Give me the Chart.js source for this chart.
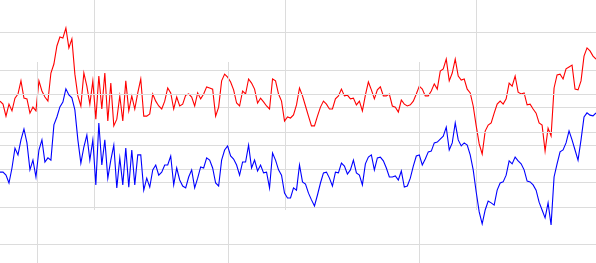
<!DOCTYPE html>
<html>
<head>
<meta charset="utf-8">
<script src="https://cdn.jsdelivr.net/npm/chart.js@4"></script>
<style>
html,body{margin:0;padding:0;background:#fff;overflow:hidden;}
#wrap{position:relative;width:596px;height:263px;overflow:hidden;background:#fff;}
canvas{position:absolute;left:0;}
#cA{top:0;}
#cB{top:62px;}
</style>
</head>
<body>
<div id="wrap">
<canvas id="cA" width="596" height="210"></canvas>
<canvas id="cB" width="596" height="210"></canvas>
</div>
<script>
// Series values (sample index 0..199)
const redValues = [
21.7,20.9,17.7,20.9,19.1,22.5,23.6,27.1,22.5,22.3,
18.5,20.1,19.1,27.1,24.4,22.8,21.7,29.2,31.6,36.4,
38.8,38.5,41.2,35.9,38.3,28.9,23.1,20.4,29.2,25.7,
20.9,27.1,16.9,28.4,19.6,29.2,16.4,26.5,15.1,16.9,
23.1,16.4,27.1,19.1,23.1,19.6,23.9,27.6,17.7,17.7,
18.3,23.6,21.7,20.4,19.6,21.7,25.2,23.9,19.6,22.8,
20.4,20.9,23.3,23.6,22.8,20.4,23.9,22.3,23.6,25.5,
25.2,24.9,17.7,20.1,27.1,28.9,28.1,26.8,24.7,21.2,
20.4,24.4,23.6,27.6,26.5,24.9,21.2,22.5,21.5,20.4,
19.6,27.6,27.1,23.6,21.7,16.4,17.5,17.2,18.0,20.7,
25.2,23.1,20.4,17.7,15.1,15.1,17.7,20.1,21.7,20.9,
19.6,19.6,22.3,23.1,24.9,23.1,23.3,22.3,22.5,20.7,
21.7,19.1,23.3,26.8,24.7,22.3,24.7,25.5,23.1,23.1,
23.6,20.4,20.1,18.8,22.0,20.9,20.4,20.7,21.7,23.6,
25.7,24.9,23.1,23.1,24.4,26.3,24.9,29.7,30.3,32.9,
27.1,29.2,32.9,28.4,27.3,27.6,24.9,23.9,20.4,15.1,
10.3,7.6,13.7,15.3,15.9,18.5,20.9,21.7,20.9,22.3,
26.5,25.7,28.4,24.1,23.6,23.9,20.7,20.9,19.6,18.5,
15.9,15.3,8.4,14.5,12.4,25.2,28.7,28.9,27.6,30.3,
30.8,31.3,24.9,24.7,27.1,33.7,35.9,35.1,33.7,32.9
];
const blueValues = [
19.3,19.3,18.5,16.4,20.4,25.7,23.9,27.9,30.8,27.1,
19.9,22.5,18.0,25.2,27.9,22.0,23.1,22.5,31.9,34.0,
36.7,38.0,41.5,39.9,39.1,35.9,27.9,21.7,26.0,29.2,
22.5,27.9,15.9,32.4,21.2,27.9,17.7,22.5,26.5,15.1,
23.1,15.9,25.7,15.3,25.2,15.9,23.9,23.9,14.5,17.7,
15.3,19.9,21.2,18.5,19.3,21.2,21.2,23.6,15.9,20.4,
17.2,15.6,15.1,18.0,19.9,15.1,17.7,20.7,20.4,23.1,
22.5,20.4,16.4,15.6,22.5,25.2,26.3,23.6,22.8,21.2,
18.5,22.0,22.0,26.5,20.4,22.5,19.6,21.2,19.1,19.3,
15.1,24.4,22.5,19.9,18.5,13.7,12.4,12.4,15.1,14.5,
21.2,16.7,16.1,13.7,11.9,10.3,13.2,16.4,19.1,19.3,
17.7,15.6,19.3,19.1,21.7,20.9,18.8,19.9,22.5,19.1,
18.5,15.9,21.5,23.3,23.9,19.9,23.1,23.3,22.3,20.4,
18.0,18.0,18.3,17.2,19.6,15.3,15.6,17.7,20.9,23.6,
23.9,21.2,22.8,24.7,24.9,27.1,27.3,28.1,28.9,31.3,
25.2,27.1,32.4,27.9,26.3,27.1,26.5,23.9,19.9,14.0,
8.7,5.5,9.2,11.6,11.1,10.5,14.5,16.4,16.7,18.5,
22.3,21.5,23.3,22.3,21.5,19.9,16.9,16.7,15.9,14.5,
11.3,9.2,7.1,11.1,5.2,18.0,21.5,24.7,25.2,27.1,
30.3,27.9,25.2,22.5,27.9,34.0,35.1,34.5,34.3,35.1
];
// Tick positions (sample index for x, value for y)
const xTicksRed = [31.6, 95.4, 159.2];
const xTicksBlue = [12.5, 76.3, 140.1];
const yTicks = [0, 10, 20, 30, 40];
const yMin = -7.333, yMax = 48.667;

const GRID = 'rgb(220,220,220)';

function makeChart(id, values, color, xTicks) {
  const pts = values.map((v, i) => ({x: i, y: v}));
  return new Chart(document.getElementById(id), {
    type: 'line',
    data: {datasets: [{data: pts, borderColor: color, borderWidth: 1.1, pointRadius: 0, tension: 0, fill: false}]},
    options: {
      responsive: false,
      animation: false,
      events: [],
      layout: {padding: 0},
      plugins: {legend: {display: false}, tooltip: {enabled: false}},
      scales: {
        x: {
          type: 'linear', min: 0, max: values.length - 1,
          ticks: {display: false},
          grid: {drawTicks: false, color: GRID, lineWidth: 1},
          border: {display: false},
          afterBuildTicks: s => { s.ticks = xTicks.map(v => ({value: v})); }
        },
        y: {
          type: 'linear', min: yMin, max: yMax,
          ticks: {display: false},
          grid: {drawTicks: false, color: GRID, lineWidth: 1},
          border: {display: false},
          afterBuildTicks: s => { s.ticks = yTicks.map(v => ({value: v})); }
        }
      }
    }
  });
}
makeChart('cA', redValues, '#ff0000', xTicksRed);
makeChart('cB', blueValues, '#0000ff', xTicksBlue);
</script>
</body>
</html>
